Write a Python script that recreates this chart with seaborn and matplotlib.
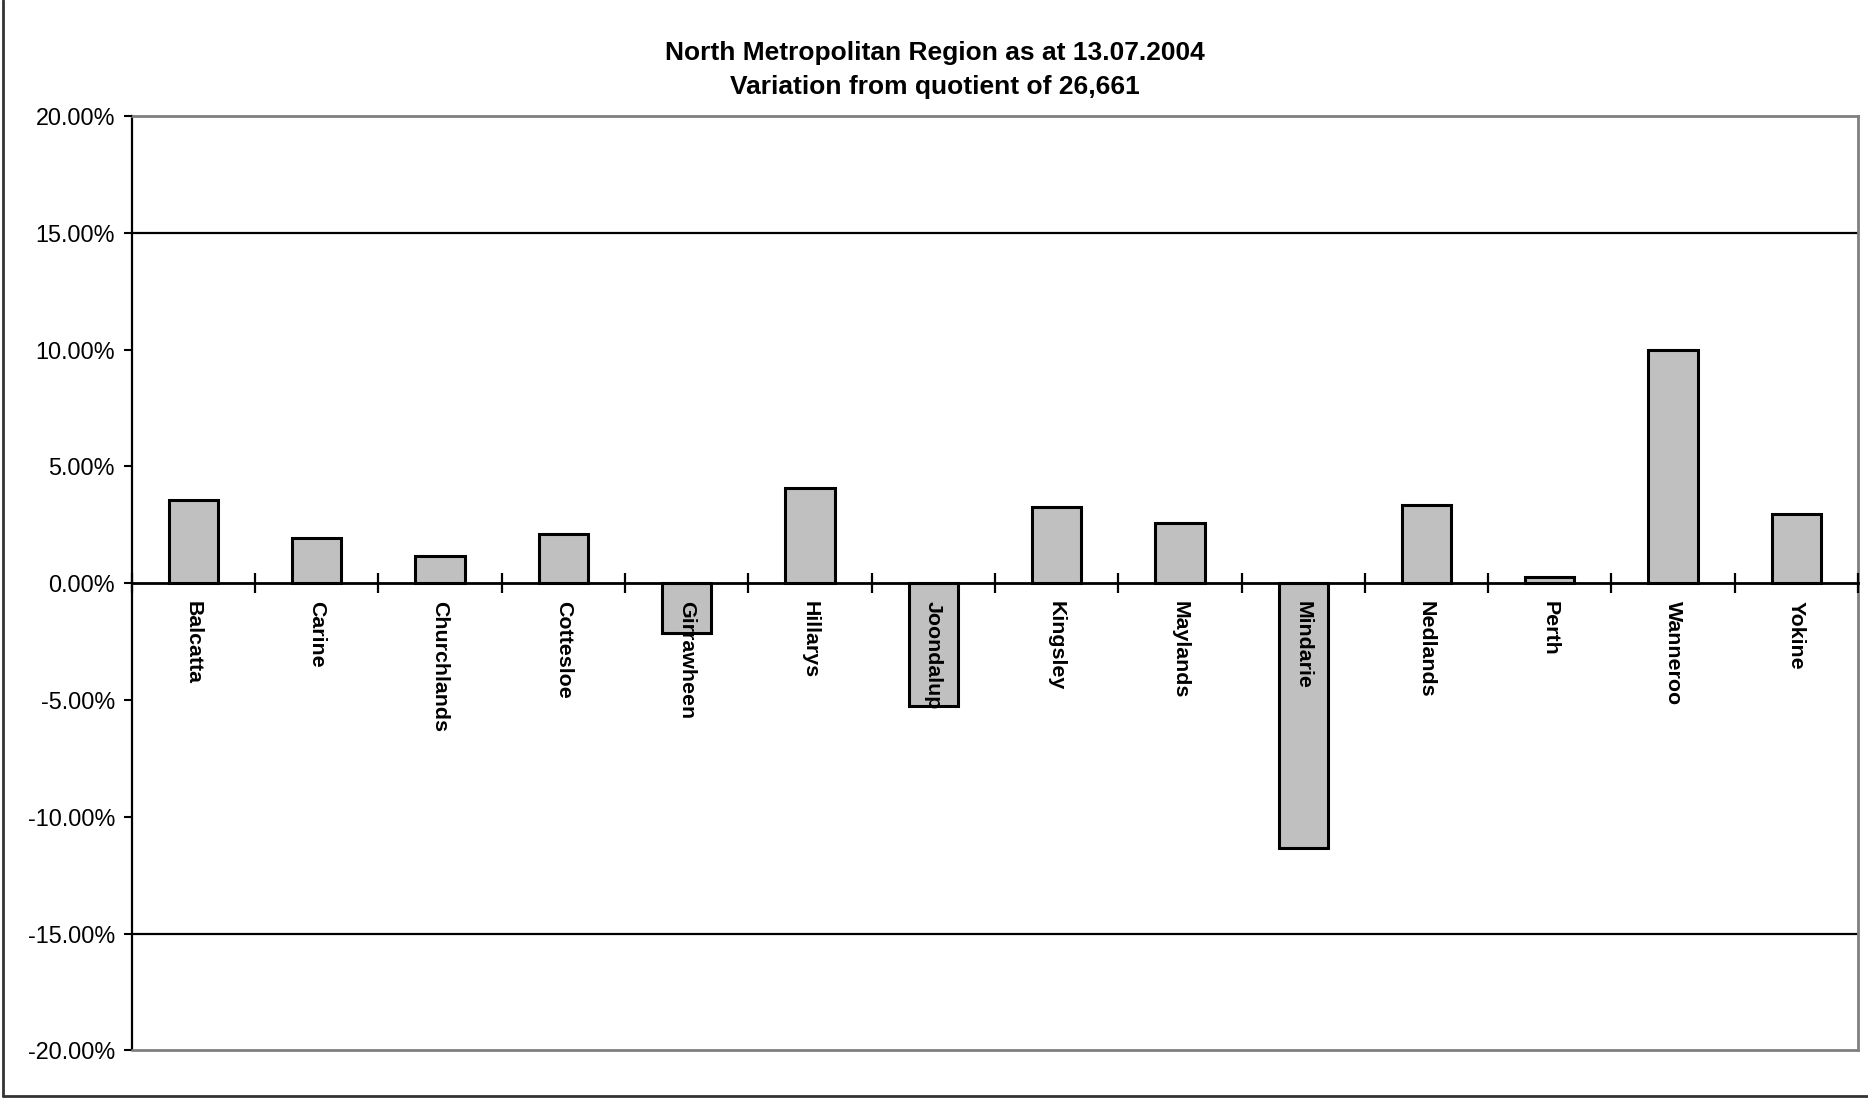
import matplotlib
matplotlib.use("Agg")
import matplotlib.pyplot as plt
from matplotlib.lines import Line2D
import seaborn as sns

# data (percent variation from quotient)
electorates = ["Balcatta", "Carine", "Churchlands", "Cottesloe", "Girrawheen",
               "Hillarys", "Joondalup", "Kingsley", "Maylands", "Mindarie",
               "Nedlands", "Perth", "Wanneroo", "Yokine"]
variation = [3.57, 1.94, 1.18, 2.11, -2.13, 4.08, -5.27, 3.25, 2.58, -11.33,
             3.36, 0.26, 9.98, 2.96]
tolerance = [15, -15]
yticks = [-20, -15, -10, -5, 0, 5, 10, 15, 20]

sns.set_style("white")
plt.rcParams['font.family'] = ['Liberation Sans', 'DejaVu Sans']
plt.rcParams['text.color'] = 'black'
plt.rcParams['xtick.color'] = 'black'
plt.rcParams['ytick.color'] = 'black'

fig = plt.figure(figsize=(18.68, 10.98), dpi=100)
ax = fig.add_axes([0.0705, 0.0433, 0.9242, 0.8511])

sns.barplot(x=electorates, y=variation, color="#C0C0C0", saturation=1,
            edgecolor="black", linewidth=2.2, width=0.4, ax=ax, zorder=1)

for t in tolerance:
    ax.axhline(t, color="black", lw=1.6, zorder=1)

ax.set_axisbelow(False)
ax.set_xlim(-0.5, len(electorates) - 0.5)
ax.set_ylim(-20, 20)
ax.set_yticks(yticks)
ax.set_yticklabels(["%.2f%%" % v for v in yticks], fontsize=16.8)
ax.tick_params(axis="y", left=True, direction="out", length=6, width=1.5,
               color="black", pad=6)

# category axis crosses at zero
ax.spines["bottom"].set_position(("data", 0))
ax.spines["bottom"].set_color("black")
ax.spines["bottom"].set_linewidth(2)
ax.spines["left"].set_color("black")
ax.spines["left"].set_linewidth(1.6)
for s in ["top", "right"]:
    ax.spines[s].set_color("#808080")
    ax.spines[s].set_linewidth(2)
ax.axhline(-20, color="#808080", lw=2, clip_on=False, zorder=3)

ax.set_xticks(range(len(electorates)))
ax.set_xticklabels(electorates, rotation=-90, fontsize=15.4, fontweight="bold",
                   va="top", ha="center")
ax.tick_params(axis="x", which="major", bottom=True, length=0, pad=13)
ax.set_xticks([i - 0.5 for i in range(len(electorates) + 1)], minor=True)
ax.tick_params(axis="x", which="minor", bottom=True, direction="inout",
               length=14, width=1.6, color="black")
ax.set_xlabel("")
ax.set_ylabel("")

fig.text(0.5003, 0.952, "North Metropolitan Region as at 13.07.2004",
         ha="center", va="center", fontsize=19, fontweight="bold")
fig.text(0.5003, 0.921, "Variation from quotient of 26,661",
         ha="center", va="center", fontsize=19, fontweight="bold")

# chart area border
fig.add_artist(Line2D([0.0016, 0.0016], [0.0016, 1.0], color="#333333", lw=2))
fig.add_artist(Line2D([0.0016, 1.0], [0.0016, 0.0016], color="#333333", lw=2))

fig.savefig("out.png", dpi=100)
